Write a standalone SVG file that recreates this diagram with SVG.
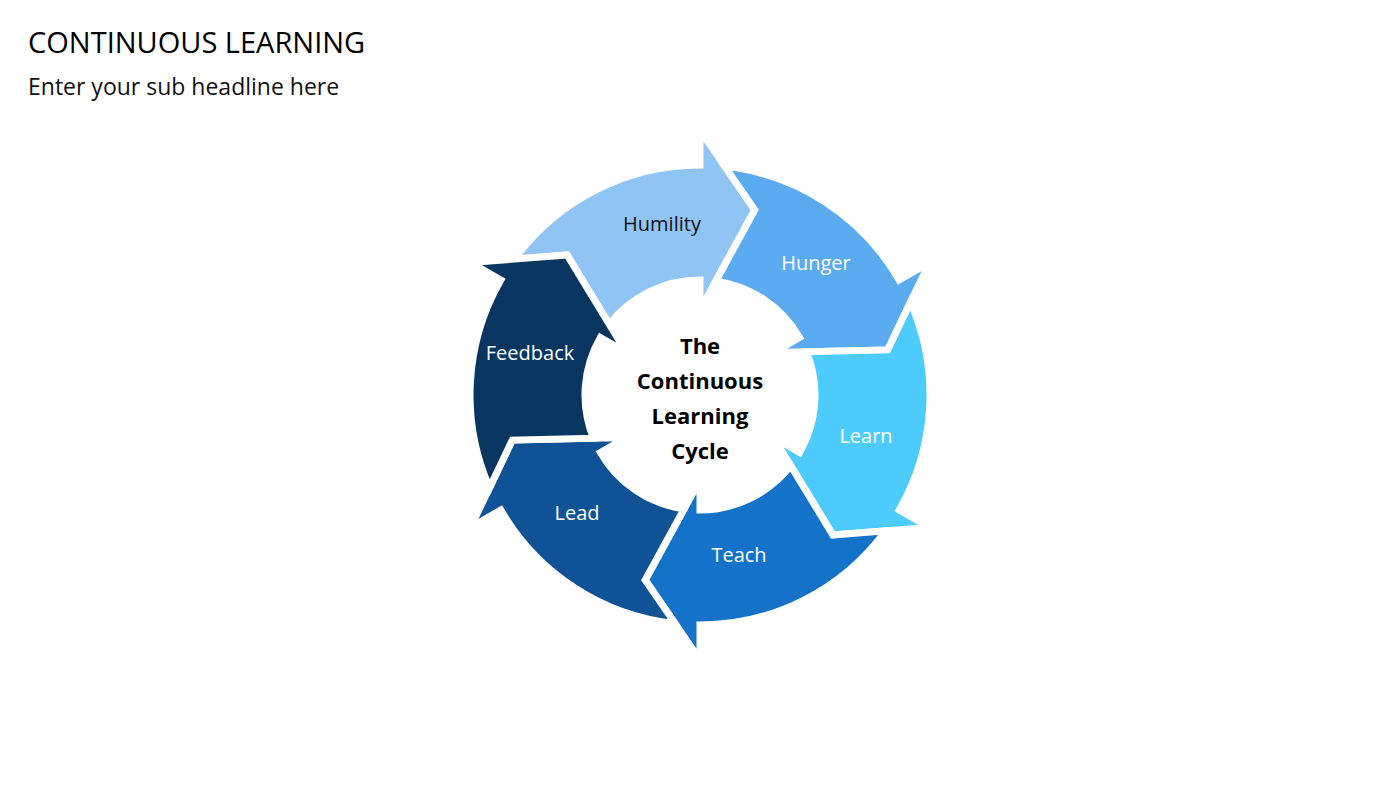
<svg xmlns="http://www.w3.org/2000/svg" xmlns:xlink="http://www.w3.org/1999/xlink" width="1400" height="788" viewBox="0 0 1400 788">
<style>
.seg{stroke:#fff;stroke-width:7;stroke-linejoin:miter}
.lbl{font-family:"Open Sans","Liberation Sans",sans-serif;font-size:20px;fill:#fff;text-anchor:middle;dominant-baseline:middle}
.ctr{font-family:"Open Sans","Liberation Sans",sans-serif;font-size:22px;font-weight:bold;fill:#000;text-anchor:middle}
</style>
<defs>
<path id="seg" d="M514.4,259.2 A230,230 0 0 1 700,165 L700,130 L754.8,209.9 L700,310 L700,280 A115,115 0 0 0 609.3,324.3 L567.1,255 Z"/>
</defs>
<rect width="1400" height="788" fill="#fff"/>
<text x="28" y="53" font-family="'Open Sans','Liberation Sans',sans-serif" font-size="29" fill="#000">CONTINUOUS LEARNING</text>
<text x="28" y="95" font-family="'Open Sans','Liberation Sans',sans-serif" font-size="23" fill="#111">Enter your sub headline here</text>
<g id="connectors"/>
<g id="humility"><use xlink:href="#seg" class="seg" fill="#90C4F5"/><text class="lbl" x="662" y="226" style="fill:#111">Humility</text></g>
<g id="hunger"><use xlink:href="#seg" class="seg" fill="#5AABF0" transform="rotate(60 700 395)"/><text class="lbl" x="816" y="265">Hunger</text></g>
<g id="learn"><use xlink:href="#seg" class="seg" fill="#4DCBFD" transform="rotate(120 700 395)"/><text class="lbl" x="866" y="438">Learn</text></g>
<g id="teach"><use xlink:href="#seg" class="seg" fill="#1472C8" transform="rotate(180 700 395)"/><text class="lbl" x="739" y="557">Teach</text></g>
<g id="lead"><use xlink:href="#seg" class="seg" fill="#0F5396" transform="rotate(240 700 395)"/><text class="lbl" x="577" y="515">Lead</text></g>
<g id="feedback"><use xlink:href="#seg" class="seg" fill="#083660" transform="rotate(300 700 395)"/><text class="lbl" x="530" y="355">Feedback</text></g>
<g id="center"><text class="ctr" x="700" y="354">The</text><text class="ctr" x="700" y="389">Continuous</text><text class="ctr" x="700" y="424">Learning</text><text class="ctr" x="700" y="459">Cycle</text></g>
</svg>
